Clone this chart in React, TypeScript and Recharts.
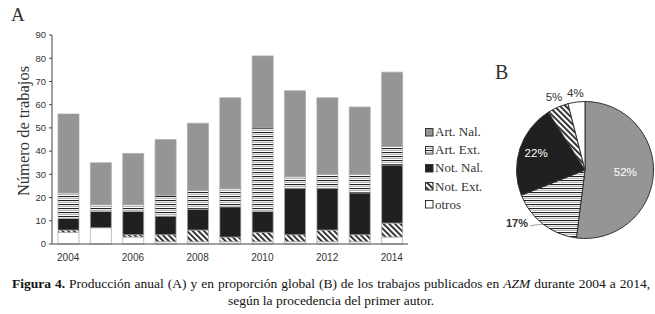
import React from 'react';
import { BarChart, Bar, XAxis, YAxis, PieChart, Pie, Cell } from 'recharts';

const years = ['2004', '2005', '2006', '2007', '2008', '2009', '2010', '2011', '2012', '2013', '2014'];
const artNal = [34, 18, 22, 24, 29, 39, 31, 37, 33, 29, 32];
const artExt = [11, 3, 3, 9, 8, 8, 36, 5, 6, 8, 8];
const notNal = [5, 7, 10, 8, 9, 13, 9, 20, 18, 18, 25];
const notExt = [1, 0, 1, 3, 5, 2, 4, 3, 5, 3, 6];
const otros = [5, 7, 3, 1, 1, 1, 1, 1, 1, 1, 3];
const yTicks = [0, 10, 20, 30, 40, 50, 60, 70, 80, 90];

const seriesNames = ['Art. Nal.', 'Art. Ext.', 'Not. Nal.', 'Not. Ext.', 'otros'];
const pieShares = [52, 17, 22, 5, 4];

const seriesKeys = ['artNal', 'artExt', 'notNal', 'notExt', 'otros'];
const fills: Record<string, string> = {
  artNal: '#959595',
  artExt: 'url(#hstripe)',
  notNal: '#202020',
  notExt: 'url(#diag)',
  otros: '#ffffff',
};

const barData = years.map((y, i) => ({
  year: y,
  artNal: artNal[i],
  artExt: artExt[i],
  notNal: notNal[i],
  notExt: notExt[i],
  otros: otros[i],
}));

const pieData = seriesNames.map((n, i) => ({ name: n, value: pieShares[i], key: seriesKeys[i] }));

const labelRadius = [0.59, 1, 0.75, 1.14, 1.12];
const RAD = Math.PI / 180;

const renderPieLabel = (p: any) => {
  const { cx, cy, midAngle, outerRadius, index, value } = p;
  const cos = Math.cos(-midAngle * RAD);
  const sin = Math.sin(-midAngle * RAD);
  const txt = `${value}%`;
  if (index === 1) {
    const ex = cx + outerRadius * cos;
    const ey = cy + outerRadius * sin;
    return (
      <g>
        <line x1={ex} y1={ey} x2={ex - 13} y2={ey + 1.5} stroke="#888" strokeWidth={0.8} />
        <text x={ex - 15} y={ey} textAnchor="end" dominantBaseline="middle" fontSize={11} fontWeight="bold" fill="#333" fontFamily="'Liberation Sans', Arial, sans-serif">
          {txt}
        </text>
      </g>
    );
  }
  const r = outerRadius * labelRadius[index];
  const x = cx + r * cos;
  const y = cy + r * sin;
  const white = index === 0 || index === 2;
  return (
    <text x={x} y={y} textAnchor="middle" dominantBaseline="middle" fontSize={11.5} fill={white ? '#ffffff' : '#333'} fontFamily="'Liberation Sans', Arial, sans-serif">
      {txt}
    </text>
  );
};

const serif = "'Liberation Serif', 'Times New Roman', serif";
const sans = "'Liberation Sans', Arial, sans-serif";

export default function App() {
  return (
    <div style={{ position: 'absolute', left: 0, top: 0, width: 655, height: 314, background: '#fff', overflow: 'hidden' }}>
      <svg width={0} height={0} style={{ position: 'absolute' }}>
        <defs>
          <pattern id="hstripe" patternUnits="userSpaceOnUse" width={4} height={4}>
            <rect x={0} y={0} width={4} height={4} fill="#ffffff" />
            <rect x={0} y={0} width={4} height={1.1} fill="#222" />
            <rect x={0} y={2} width={4} height={1} fill="#b5b5b5" />
          </pattern>
          <pattern id="diag" patternUnits="userSpaceOnUse" width={4} height={4} patternTransform="rotate(-45)">
            <rect x={0} y={0} width={4} height={4} fill="#ffffff" />
            <rect x={0} y={0} width={1.8} height={4} fill="#222" />
          </pattern>
        </defs>
      </svg>

      <div style={{ position: 'absolute', left: 11, top: 4, fontFamily: serif, fontSize: 19, lineHeight: '21px', color: '#333' }}>A</div>

      <div
        style={{
          position: 'absolute',
          left: 24,
          top: 131,
          transform: 'translate(-50%, -50%) rotate(-90deg)',
          fontFamily: serif,
          fontSize: 16.5,
          color: '#333',
          whiteSpace: 'nowrap',
        }}
      >
        Número de trabajos
      </div>

      <div style={{ position: 'absolute', left: 0, top: 0 }}>
        <BarChart width={420} height={270} data={barData} margin={{ top: 35, right: 12, bottom: 0, left: 0 }} barSize={21}>
          <XAxis
            dataKey="year"
            interval={1}
            tickLine={false}
            tickSize={8}
            axisLine={{ stroke: '#444' }}
            tick={{ fontSize: 10, fill: '#333', fontFamily: sans }}
            height={26}
          />
          <YAxis
            domain={[0, 90]}
            ticks={yTicks}
            width={52}
            tickSize={3}
            tickMargin={3}
            axisLine={{ stroke: '#444' }}
            tickLine={{ stroke: '#444' }}
            tick={{ fontSize: 9.5, fill: '#333', fontFamily: sans }}
          />
          {['otros', 'notExt', 'notNal', 'artExt', 'artNal'].map((k) => (
            <Bar key={k} dataKey={k} stackId="s" fill={fills[k]} stroke="#a8a8a8" strokeWidth={0.7} isAnimationActive={false} />
          ))}
        </BarChart>
      </div>

      <div style={{ position: 'absolute', left: 425, top: 123, fontFamily: serif, fontSize: 13, color: '#333' }}>
        {seriesNames.map((n, i) => (
          <div key={n} style={{ height: 18.2, display: 'flex', alignItems: 'center' }}>
            <svg width={9} height={9} style={{ marginRight: 1 }}>
              <rect x={0.5} y={0.5} width={7.5} height={7.5} fill={fills[seriesKeys[i]]} stroke="#333" strokeWidth={1} />
            </svg>
            <span>{n}</span>
          </div>
        ))}
      </div>

      <div style={{ position: 'absolute', left: 495, top: 61, fontFamily: serif, fontSize: 20, color: '#333' }}>B</div>

      <div style={{ position: 'absolute', left: 490, top: 60 }}>
        <PieChart width={165} height={185}>
          <Pie
            data={pieData}
            dataKey="value"
            cx={90}
            cy={105}
            outerRadius={68.5}
            startAngle={90}
            endAngle={-270}
            stroke="#333"
            strokeWidth={1}
            label={renderPieLabel}
            labelLine={false}
            isAnimationActive={false}
          >
            {pieData.map((d) => (
              <Cell key={d.key} fill={fills[d.key]} />
            ))}
          </Pie>
        </PieChart>
      </div>

      <div
        style={{
          position: 'absolute',
          left: 12,
          top: 276,
          width: 638,
          fontFamily: serif,
          fontSize: 13.5,
          lineHeight: '16.5px',
          color: '#111',
          textAlign: 'center',
        }}
      >
        <div style={{ textAlign: 'justify', textAlignLast: 'justify', whiteSpace: 'nowrap' as const }}>
          <b>Figura 4.</b> Producción anual (A) y en proporción global (B) de los trabajos publicados en <i>AZM</i> durante 2004 a 2014,
        </div>
        <div>según la procedencia del primer autor.</div>
      </div>
    </div>
  );
}
